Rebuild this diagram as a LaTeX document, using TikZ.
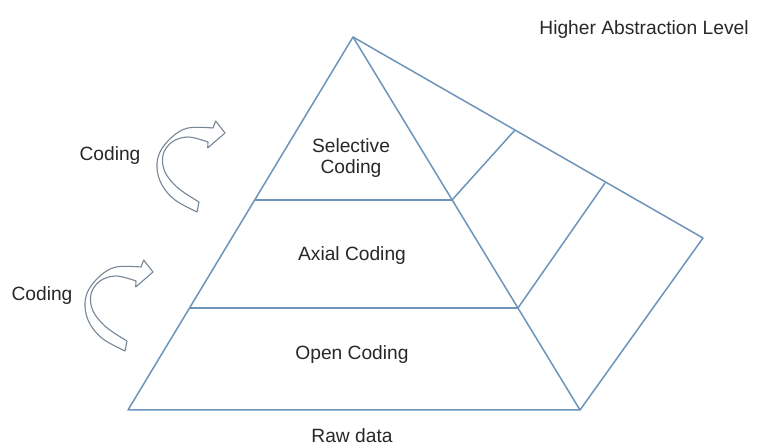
\documentclass[tikz,border=0pt]{standalone}
\usepackage{fontspec}
\setmainfont{Liberation Sans}
\begin{document}
\begin{tikzpicture}[x=1pt,y=-1pt,
  edge/.style={draw=linecol,line width=1.5pt,line join=round},
  arr/.style={draw=arrcol,line width=1.1pt,fill=white,line join=round},
  lbl/.style={text=txtcol,font=\fontsize{19.2}{21}\selectfont,inner sep=0pt,align=center}]
\definecolor{linecol}{RGB}{110,148,186}
\definecolor{arrcol}{RGB}{118,134,150}
\definecolor{txtcol}{RGB}{40,40,40}
\useasboundingbox[fill=white] (0,0) rectangle (761,446);
% pyramid corners
\coordinate (A) at (353,37);
\coordinate (BL) at (128,410);
\coordinate (BR) at (580,410);
\coordinate (BK) at (703,238);
\coordinate (L1) at (255,200);
\coordinate (R1) at (452,200);
\coordinate (L2) at (190,308);
\coordinate (R2) at (518,308);
\coordinate (P1) at (515,130);
\coordinate (P2) at (605,183);
\draw[edge] (A) -- (BL) -- (BR) -- cycle;
\draw[edge] (A) -- (BK) -- (BR);
\draw[edge] (L1) -- (R1);
\draw[edge] (L2) -- (R2);
\draw[edge] (R1) -- (P1);
\draw[edge] (R2) -- (P2);
% curved arrows
\foreach \dx/\dy in {0/0,-72/139}{
\begin{scope}[shift={(\dx,\dy)}]
\draw[arr] (213,128) -- (215.7,121) -- (225,133) -- (207.7,148) -- (208,142)
  -- plot[smooth,tension=0.6] coordinates {(208,142) (188,137) (172,142) (163,155) (165,172) (178,188) (199,202)}
  -- (197,212)
  -- plot[smooth,tension=0.6] coordinates {(197,212) (175,200) (162,185) (157,168) (160,152) (172,137) (188,128) (213,128)}
  -- cycle;
\end{scope}
}
% labels
\node[lbl] (hal) at (644,30) {Higher Abstraction Level};
\node[lbl] (sel) at (351,158) {Selective\\Coding};
\node[lbl] (ax) at (352,256) {Axial Coding};
\node[lbl] (op) at (352,355) {Open Coding};
\node[lbl] (raw) at (352,436) {Raw data};
\node[lbl] (c1) at (110,156) {Coding};
\node[lbl] (c2) at (42,296) {Coding};
\end{tikzpicture}
\end{document}
